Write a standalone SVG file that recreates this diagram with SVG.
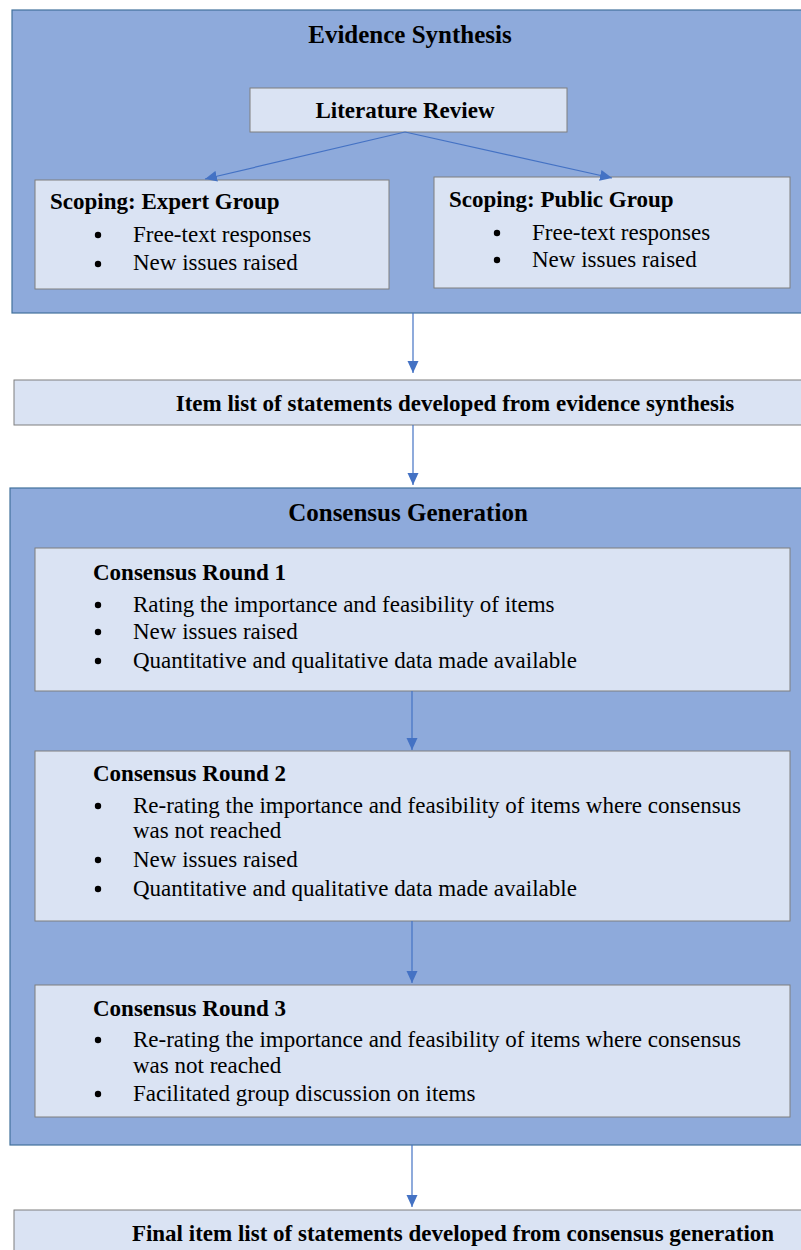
<svg xmlns="http://www.w3.org/2000/svg" width="801" height="1250" viewBox="0 0 801 1250">
<defs>
<marker id="ah" viewBox="0 0 12 12" refX="12" refY="6" markerWidth="12" markerHeight="12" orient="auto" markerUnits="userSpaceOnUse">
<path d="M0,0.5 L12,6 L0,11.5 z" fill="#4472C4"/>
</marker>
<style>
.outer{fill:#8EAADB;stroke:#41719C;stroke-width:1.2}
.inner{fill:#DAE3F3;stroke:#7F7F7F;stroke-width:1}
.t{font-family:"Liberation Serif","Times New Roman",serif;fill:#000}
.h{font-weight:bold;font-size:25px}
.b{font-weight:bold;font-size:23px}
.r{font-size:23px}
.dot{fill:#000}
.c{stroke:#4472C4;stroke-width:1.2;fill:none;marker-end:url(#ah)}
</style>
</defs>
<rect width="801" height="1250" fill="#fff"/>
<g id="evidence-synthesis">
<rect class="outer" x="12" y="10" width="795" height="303"/>
<text class="t h" x="410" y="43" text-anchor="middle">Evidence Synthesis</text>
</g>
<g id="literature-review">
<rect class="inner" x="250" y="88" width="317" height="44"/>
<text class="t b" x="405" y="118" text-anchor="middle">Literature Review</text>
</g>
<g id="scoping-expert">
<rect class="inner" x="35" y="180" width="354" height="109"/>
<text class="t b" x="50" y="209">Scoping: Expert Group</text>
<circle class="dot" cx="98" cy="235" r="3.2"/>
<text class="t r" x="133" y="242">Free-text responses</text>
<circle class="dot" cx="98" cy="264" r="3.2"/>
<text class="t r" x="133" y="270">New issues raised</text>
</g>
<g id="scoping-public">
<rect class="inner" x="434" y="177" width="356" height="111"/>
<text class="t b" x="449" y="207">Scoping: Public Group</text>
<circle class="dot" cx="497" cy="233" r="3.2"/>
<text class="t r" x="532" y="240">Free-text responses</text>
<circle class="dot" cx="497" cy="260" r="3.2"/>
<text class="t r" x="532" y="267">New issues raised</text>
</g>
<g id="item-list">
<rect class="inner" x="14" y="380" width="793" height="45"/>
<text class="t b" x="455" y="411" text-anchor="middle">Item list of statements developed from evidence synthesis</text>
</g>
<g id="consensus-generation">
<rect class="outer" x="10" y="488" width="797" height="657"/>
<text class="t h" x="408" y="521" text-anchor="middle">Consensus Generation</text>
</g>
<g id="round-1">
<rect class="inner" x="35" y="548" width="755" height="143"/>
<text class="t b" x="93" y="580">Consensus Round 1</text>
<circle class="dot" cx="98" cy="605" r="3.2"/>
<text class="t r" x="133" y="612">Rating the importance and feasibility of items</text>
<circle class="dot" cx="98" cy="632" r="3.2"/>
<text class="t r" x="133" y="639">New issues raised</text>
<circle class="dot" cx="98" cy="661" r="3.2"/>
<text class="t r" x="133" y="668">Quantitative and qualitative data made available</text>
</g>
<g id="round-2">
<rect class="inner" x="35" y="751" width="755" height="170"/>
<text class="t b" x="93" y="781">Consensus Round 2</text>
<circle class="dot" cx="98" cy="806" r="3.2"/>
<text class="t r" x="133" y="813">Re-rating the importance and feasibility of items where consensus</text>
<text class="t r" x="133" y="838">was not reached</text>
<circle class="dot" cx="98" cy="860" r="3.2"/>
<text class="t r" x="133" y="867">New issues raised</text>
<circle class="dot" cx="98" cy="889" r="3.2"/>
<text class="t r" x="133" y="896">Quantitative and qualitative data made available</text>
</g>
<g id="round-3">
<rect class="inner" x="35" y="985" width="755" height="132"/>
<text class="t b" x="93" y="1016">Consensus Round 3</text>
<circle class="dot" cx="98" cy="1040" r="3.2"/>
<text class="t r" x="133" y="1047">Re-rating the importance and feasibility of items where consensus</text>
<text class="t r" x="133" y="1073">was not reached</text>
<circle class="dot" cx="98" cy="1094" r="3.2"/>
<text class="t r" x="133" y="1101">Facilitated group discussion on items</text>
</g>
<g id="final-list">
<rect class="inner" x="14" y="1210" width="793" height="50"/>
<text class="t b" x="453" y="1241" text-anchor="middle">Final item list of statements developed from consensus generation</text>
</g>
<g id="connectors">
<line class="c" x1="405" y1="132" x2="205" y2="179"/>
<line class="c" x1="405" y1="132" x2="612" y2="178"/>
<line class="c" x1="413" y1="313" x2="413" y2="373"/>
<line class="c" x1="413" y1="425" x2="413" y2="485"/>
<line class="c" x1="412" y1="691" x2="412" y2="750"/>
<line class="c" x1="412" y1="921" x2="412" y2="983"/>
<line class="c" x1="412" y1="1145" x2="412" y2="1207"/>
</g>
</svg>
